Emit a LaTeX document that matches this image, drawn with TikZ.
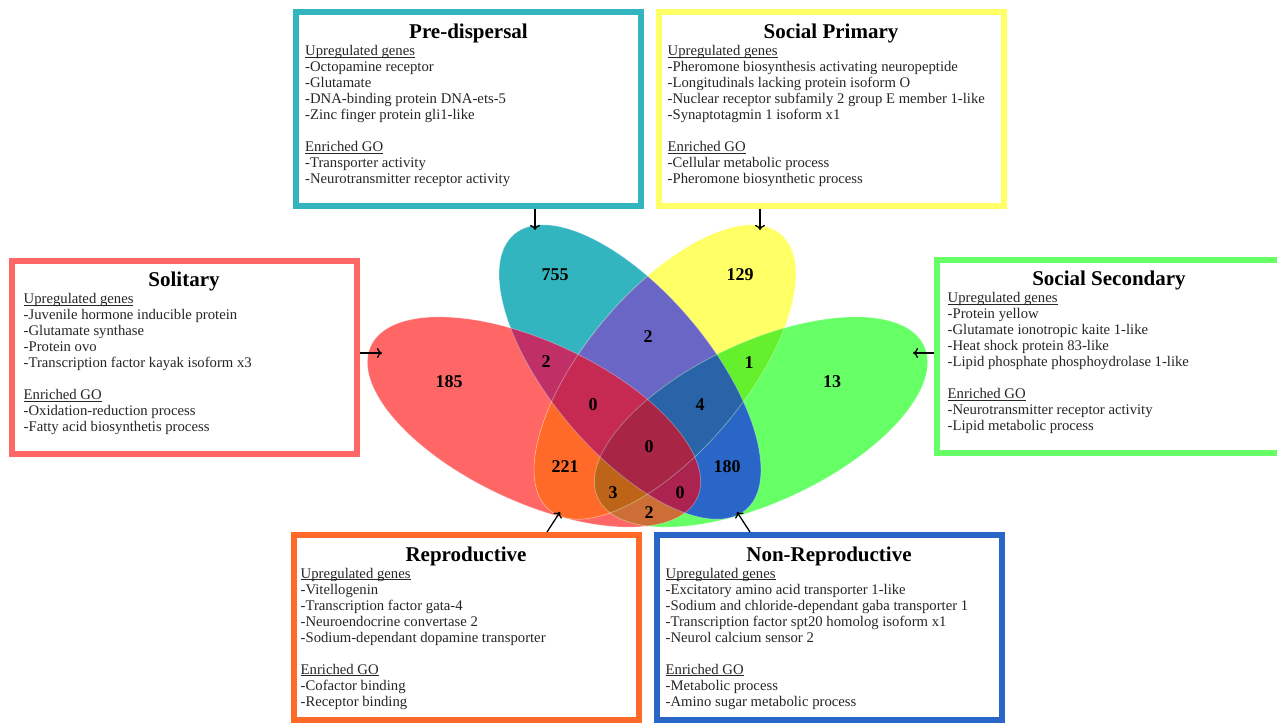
\documentclass[tikz,border=0pt]{standalone}
\usepackage{fontspec}
\setmainfont{Liberation Serif}
\usetikzlibrary{positioning,arrows.meta}

\definecolor{solred}{HTML}{FF6666}
\definecolor{preteal}{HTML}{33B5C0}
\definecolor{spyel}{HTML}{FFFF66}
\definecolor{ssgrn}{HTML}{66FF66}
\definecolor{solpre}{HTML}{C02F66}
\definecolor{solsp}{HTML}{FF6A28}
\definecolor{solss}{HTML}{CC6E35}
\definecolor{presp}{HTML}{6A66C6}
\definecolor{press}{HTML}{2A66C8}
\definecolor{spss}{HTML}{64F02C}
\definecolor{solpresp}{HTML}{C62A52}
\definecolor{solpress}{HTML}{AD2350}
\definecolor{solspss}{HTML}{BE6418}
\definecolor{prespss}{HTML}{2A64A8}
\definecolor{allfour}{HTML}{A82545}

\tikzset{
	solE/.style={rotate around={-25:(534,422)}, insert path={(534,422) ellipse [x radius=180pt, y radius=80pt]}},
	preE/.style={rotate around={-50:(630,372)}, insert path={(630,372) ellipse [x radius=180pt, y radius=80pt]}},
	spE/.style={rotate around={50:(665,372)}, insert path={(665,372) ellipse [x radius=180pt, y radius=80pt]}},
	ssE/.style={rotate around={25:(761,422)}, insert path={(761,422) ellipse [x radius=180pt, y radius=80pt]}},
}

\begin{document}
\begin{tikzpicture}[x=1pt,y=-1pt,
		panel/.style={draw=#1, line width=6pt, fill=white, minimum width=345pt, minimum height=193pt},
		heading/.style={anchor=base, font=\fontsize{21}{23}\selectfont\bfseries},
		genes/.style={anchor=north west, align=left, inner sep=0pt, text=black!85, font=\fontsize{14.7}{16}\selectfont},
		count/.style={font=\fontsize{18}{18}\selectfont\bfseries},
		pointer/.style={-{To[length=5pt,width=10pt]}, line width=1.3pt}]
	\path[use as bounding box, fill=white] (0,0) rectangle (1277,725);

	% the four sets, then their overlaps
	\fill[solred, solE]; \fill[preteal, preE]; \fill[spyel, spE]; \fill[ssgrn, ssE];
	\begin{scope} \clip[solE]; \fill[solpre, preE]; \end{scope}
	\begin{scope} \clip[solE]; \fill[solsp, spE]; \end{scope}
	\begin{scope} \clip[solE]; \fill[solss, ssE]; \end{scope}
	\begin{scope} \clip[preE]; \fill[presp, spE]; \end{scope}
	\begin{scope} \clip[preE]; \fill[press, ssE]; \end{scope}
	\begin{scope} \clip[spE]; \fill[spss, ssE]; \end{scope}
	\begin{scope} \clip[solE]; \clip[preE]; \fill[solpresp, spE]; \end{scope}
	\begin{scope} \clip[solE]; \clip[preE]; \fill[solpress, ssE]; \end{scope}
	\begin{scope} \clip[solE]; \clip[spE]; \fill[solspss, ssE]; \end{scope}
	\begin{scope} \clip[preE]; \clip[spE]; \fill[prespss, ssE]; \end{scope}
	\begin{scope} \clip[solE]; \clip[preE]; \clip[spE]; \fill[allfour, ssE]; \end{scope}
	\draw[white, opacity=.3, line width=.8pt, solE];
	\draw[white, opacity=.3, line width=.8pt, preE];
	\draw[white, opacity=.3, line width=.8pt, spE];
	\draw[white, opacity=.3, line width=.8pt, ssE];

	\node[count] (n755) at (555,275) {755};
	\node[count] (n129) at (740,275) {129};
	\node[count] (n185) at (449,382) {185};
	\node[count] (n13) at (832,382) {13};
	\node[count] (nTop) at (648,337) {2};
	\node[count] (nLeft) at (546,362) {2};
	\node[count] (nOne) at (749,363) {1};
	\node[count] (nZa) at (593,405) {0};
	\node[count] (nFour) at (700,405) {4};
	\node[count] (nZb) at (649,447) {0};
	\node[count] (n221) at (565,467) {221};
	\node[count] (n180) at (727,467) {180};
	\node[count] (nThree) at (613,493) {3};
	\node[count] (nZc) at (680,493) {0};
	\node[count] (nBot) at (649,513) {2};

	% panels
	\node[panel=preteal] (pre) at (468.5,109) {};
	\node[panel=spyel] (sp) at (831,109) {};
	\node[panel=solred] (sol) at (184,357) {};
	\node[panel=ssgrn] (ss) at (1109,356) {};
	\node[panel=solsp, minimum height=185pt] (rep) at (466,627.5) {};
	\node[panel=press, minimum height=185pt] (nrep) at (829,627.5) {};

	\node[heading] (preT) at ([yshift=-29pt]pre.north) {Pre-dispersal};
	\node[heading] (spT) at ([yshift=-29pt]sp.north) {Social Primary};
	\node[heading] (solT) at ([yshift=-29pt]sol.north) {Solitary};
	\node[heading] (ssT) at ([yshift=-29pt]ss.north) {Social Secondary};
	\node[heading] (repT) at ([yshift=-29pt]rep.north) {Reproductive};
	\node[heading] (nrepT) at ([yshift=-29pt]nrep.north) {Non-Reproductive};

	\node[genes] (preL) at ([xshift=12pt,yshift=-46pt]pre.north west) {\underline{\smash{Upregulated genes}}\\-Octopamine receptor\\-Glutamate\\-DNA-binding protein DNA-ets-5\\-Zinc finger protein gli1-like\\[16pt]\underline{\smash{Enriched GO}}\\-Transporter activity\\-Neurotransmitter receptor activity};
	\node[genes] (spL) at ([xshift=12pt,yshift=-46pt]sp.north west) {\underline{\smash{Upregulated genes}}\\-Pheromone biosynthesis activating neuropeptide\\-Longitudinals lacking protein isoform O\\-Nuclear receptor subfamily 2 group E member 1-like\\-Synaptotagmin 1 isoform x1\\[16pt]\underline{\smash{Enriched GO}}\\-Cellular metabolic process\\-Pheromone biosynthetic process};
	\node[genes] (solL) at ([xshift=15pt,yshift=-46pt]sol.north west) {\underline{\smash{Upregulated genes}}\\-Juvenile hormone inducible protein\\-Glutamate synthase\\-Protein ovo\\-Transcription factor kayak isoform x3\\[16pt]\underline{\smash{Enriched GO}}\\-Oxidation-reduction process\\-Fatty acid biosynthetis process};
	\node[genes] (ssL) at ([xshift=14pt,yshift=-46pt]ss.north west) {\underline{\smash{Upregulated genes}}\\-Protein yellow\\-Glutamate ionotropic kaite 1-like\\-Heat shock protein 83-like\\-Lipid phosphate phosphoydrolase 1-like\\[16pt]\underline{\smash{Enriched GO}}\\-Neurotransmitter receptor activity\\-Lipid metabolic process};
	\node[genes] (repL) at ([xshift=10pt,yshift=-46pt]rep.north west) {\underline{\smash{Upregulated genes}}\\-Vitellogenin\\-Transcription factor gata-4\\-Neuroendocrine convertase 2\\-Sodium-dependant dopamine transporter\\[16pt]\underline{\smash{Enriched GO}}\\-Cofactor binding\\-Receptor binding};
	\node[genes] (nrepL) at ([xshift=12pt,yshift=-46pt]nrep.north west) {\underline{\smash{Upregulated genes}}\\-Excitatory amino acid transporter 1-like\\-Sodium and chloride-dependant gaba transporter 1\\-Transcription factor spt20 homolog isoform x1\\-Neurol calcium sensor 2\\[16pt]\underline{\smash{Enriched GO}}\\-Metabolic process\\-Amino sugar metabolic process};

	% pointers into the diagram
	\coordinate (preTip) at (535,230);
	\coordinate (spTip) at (760,230);
	\coordinate (solTip) at (382,353);
	\coordinate (ssTip) at (913,353);
	\coordinate (repTip) at (560,512);
	\coordinate (nrepTip) at (737,512);
	\draw[pointer] (pre.south -| preTip) -- (preTip);
	\draw[pointer] (sp.south -| spTip) -- (spTip);
	\draw[pointer] (sol.east |- solTip) -- (solTip);
	\draw[pointer] (ss.west |- ssTip) -- (ssTip);
	\draw[pointer] ([xshift=81pt]rep.north) -- (repTip);
	\draw[pointer] ([xshift=-79pt]nrep.north) -- (nrepTip);
\end{tikzpicture}
\end{document}
